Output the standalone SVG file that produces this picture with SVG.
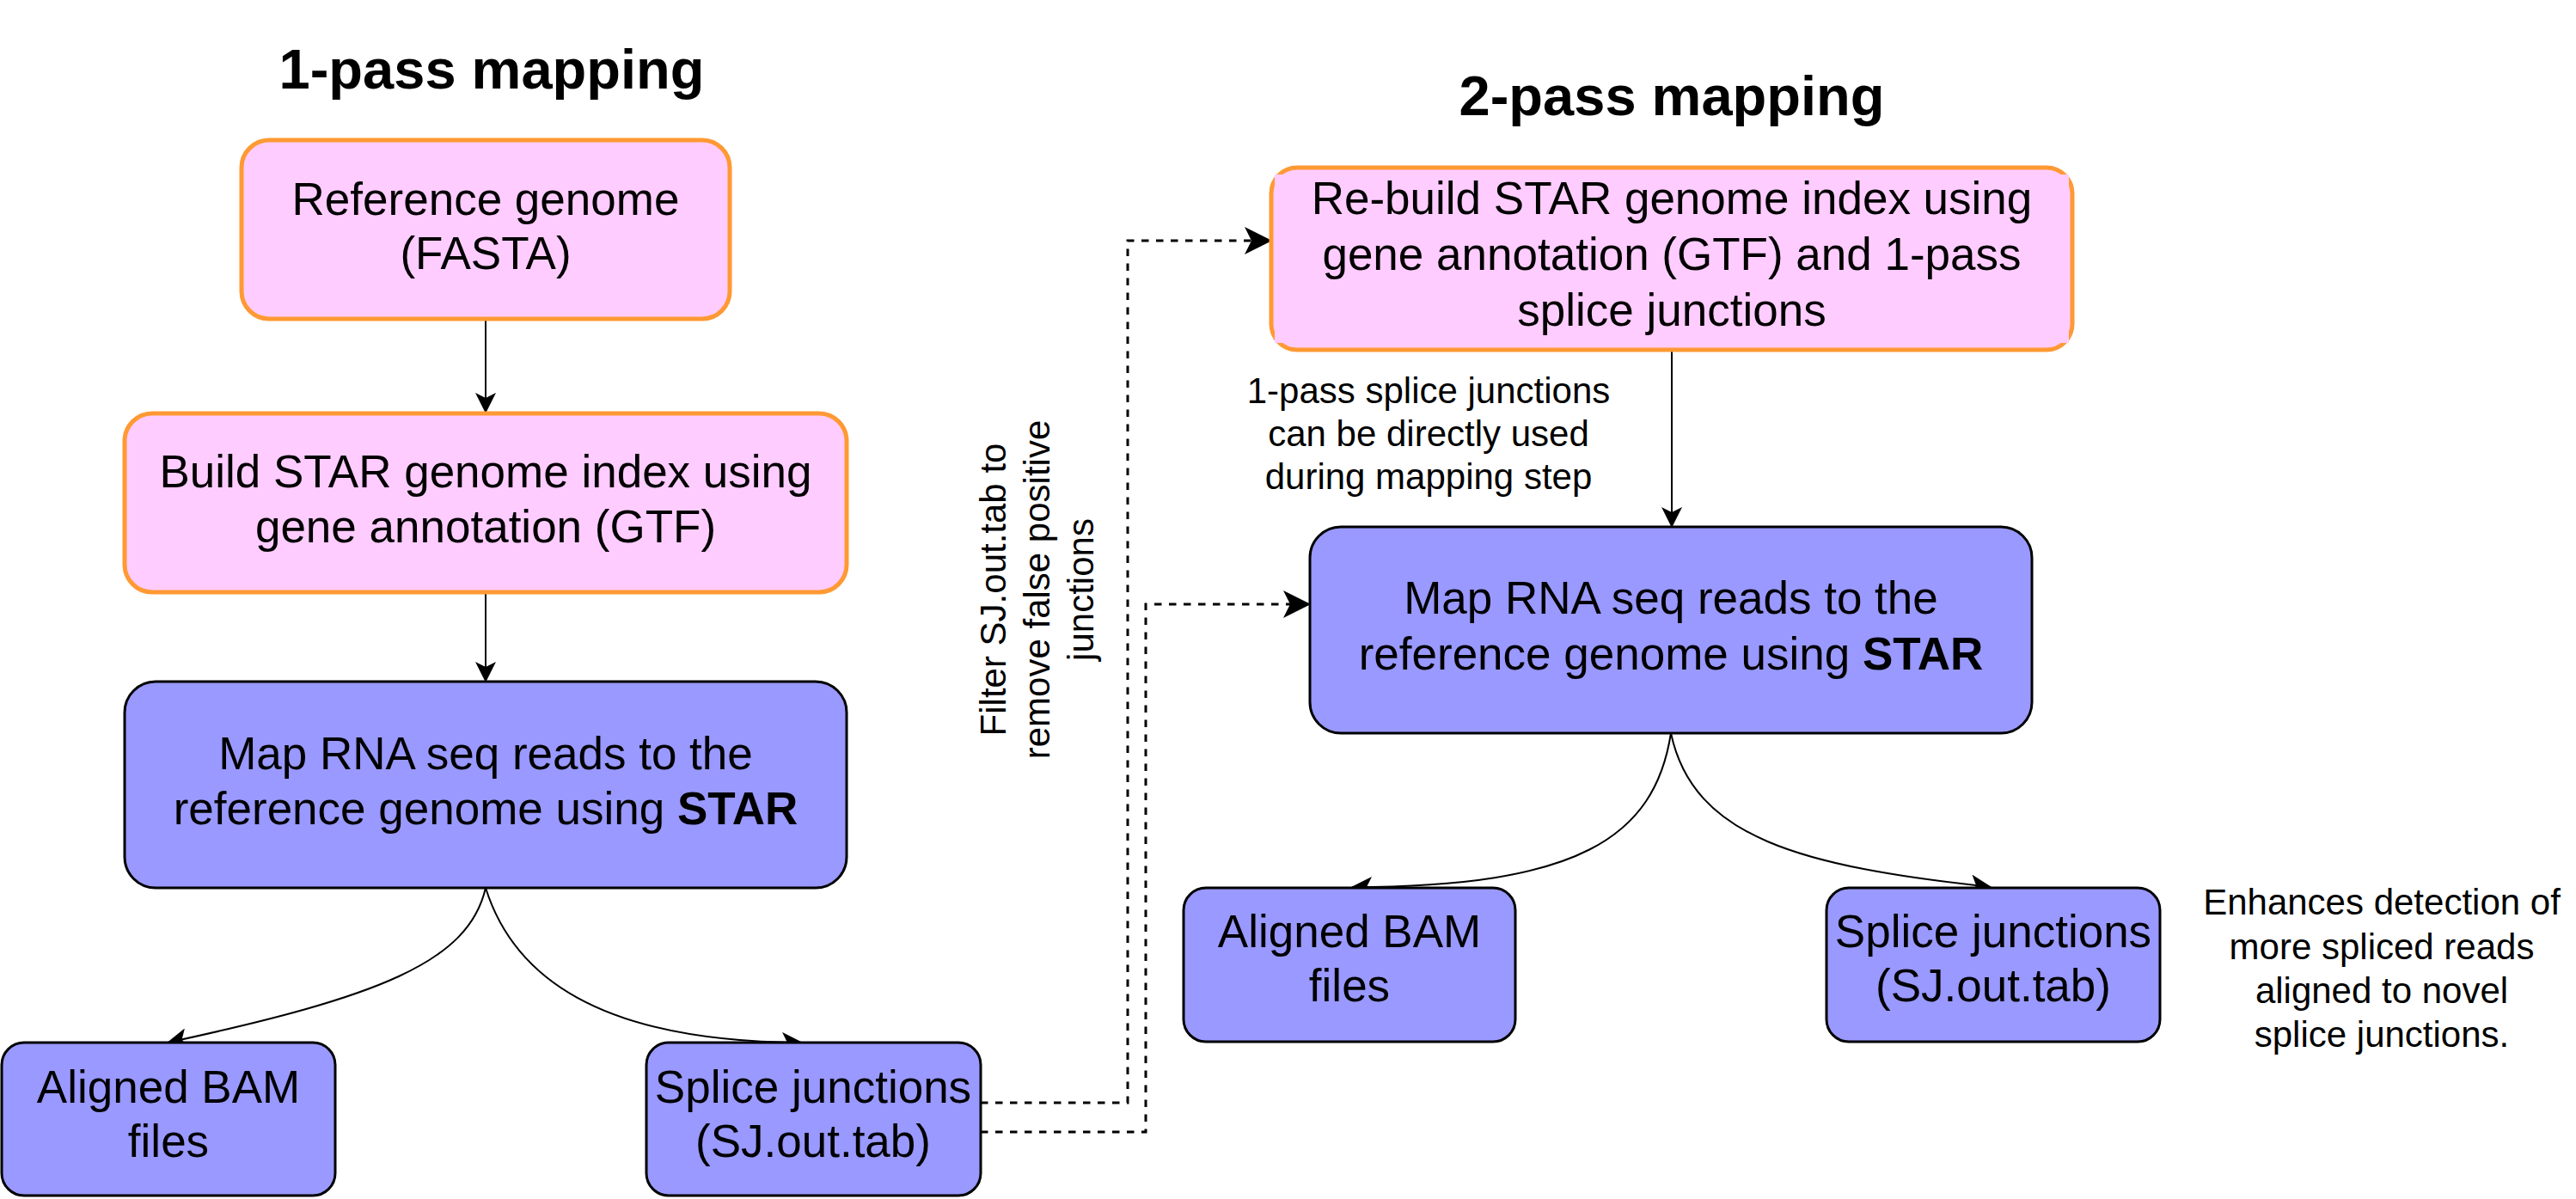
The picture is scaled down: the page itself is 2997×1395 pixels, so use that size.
<svg xmlns="http://www.w3.org/2000/svg" width="2997" height="1395" viewBox="0 0 2997 1395">
<defs>
<style>
text{font-family:"Liberation Sans",Arial,sans-serif;fill:#000;}
.t{font-size:53px;text-anchor:middle;}
.ttl{font-size:65px;font-weight:bold;text-anchor:middle;}
.note{font-size:42px;text-anchor:middle;}
.pink{fill:#FFCCFF;stroke:#FF9933;stroke-width:5;}
.blue{fill:#9999FF;stroke:#000;stroke-width:3;}
.edge{fill:none;stroke:#000;stroke-width:2;}
.dash{fill:none;stroke:#000;stroke-width:3;stroke-dasharray:8.5 8.5;}
</style>
<marker id="arr" viewBox="0 0 24 24" refX="23" refY="12" markerWidth="24" markerHeight="24" orient="auto" markerUnits="userSpaceOnUse">
<path d="M0,0 L24,12 L0,24 L6,12 z" fill="#000"/>
</marker>
<marker id="arrBig" viewBox="0 0 32 32" refX="31" refY="16" markerWidth="32" markerHeight="32" orient="auto" markerUnits="userSpaceOnUse">
<path d="M0,0 L32,16 L0,32 L8,16 z" fill="#000"/>
</marker>
</defs>
<rect width="2997" height="1395" fill="#fff"/>

<g id="titles">
<text class="ttl" x="572" y="103">1-pass mapping</text>
<text class="ttl" x="1945" y="134">2-pass mapping</text>
</g>

<g id="connectors">
<path class="edge" d="M565,371 L565,480" marker-end="url(#arr)"/>
<path class="edge" d="M565,689 L565,793" marker-end="url(#arr)"/>
<path class="edge" d="M565,1033 C545,1120 440,1160 195,1213" marker-end="url(#arr)"/>
<path class="edge" d="M565,1033 C597,1135 695,1212 933,1213" marker-end="url(#arr)"/>
<path class="dash" d="M1141,1283 L1312,1283 L1312,280 L1479,280" marker-end="url(#arrBig)"/>
<path class="dash" d="M1141,1317 L1333,1317 L1333,703 L1524,703" marker-end="url(#arrBig)"/>
<path class="edge" d="M1945,408 L1945,613" marker-end="url(#arr)"/>
<path class="edge" d="M1944,853 C1925,975 1835,1032 1573,1032" marker-end="url(#arr)"/>
<path class="edge" d="M1944,853 C1970,975 2095,1008 2316,1032" marker-end="url(#arr)"/>
</g>

<g id="n-ref">
<rect class="pink" x="281" y="163" width="568" height="208" rx="32"/>
<text class="t" x="565" y="250">Reference genome</text>
<text class="t" x="565" y="313">(FASTA)</text>
</g>

<g id="n-build">
<rect class="pink" x="145" y="481" width="840" height="208" rx="32"/>
<text class="t" x="565" y="567">Build STAR genome index using</text>
<text class="t" x="565" y="631">gene annotation (GTF)</text>
</g>

<g id="n-map1">
<rect class="blue" x="145" y="793" width="840" height="240" rx="36"/>
<text class="t" x="565" y="895">Map RNA seq reads to the</text>
<text class="t" x="565" y="959">reference genome using <tspan font-weight="bold">STAR</tspan></text>
</g>

<g id="n-bam1">
<rect class="blue" x="2" y="1213" width="388" height="178" rx="26"/>
<text class="t" x="196" y="1283">Aligned BAM</text>
<text class="t" x="196" y="1346">files</text>
</g>

<g id="n-sj1">
<rect class="blue" x="752" y="1213" width="389" height="178" rx="26"/>
<text class="t" x="946" y="1283">Splice junctions</text>
<text class="t" x="946" y="1346">(SJ.out.tab)</text>
</g>

<g id="l-filter">
<text class="note" transform="translate(1170,686) rotate(-90)"><tspan x="0" y="0">Filter SJ.out.tab to</tspan><tspan x="0" y="51">remove false positive</tspan><tspan x="0" y="102">junctions</tspan></text>
</g>

<g id="n-rebuild">
<rect class="pink" x="1479" y="195" width="932" height="212" rx="30"/>
<rect x="1483" y="203" width="924" height="196" fill="#FFCCFF"/>
<text class="t" x="1945" y="249">Re-build STAR genome index using</text>
<text class="t" x="1945" y="314">gene annotation (GTF) and 1-pass</text>
<text class="t" x="1945" y="379">splice junctions</text>
</g>

<g id="l-direct">
<text class="note" x="1662" y="469">1-pass splice junctions</text>
<text class="note" x="1662" y="519">can be directly used</text>
<text class="note" x="1662" y="569">during mapping step</text>
</g>

<g id="n-map2">
<rect class="blue" x="1524" y="613" width="840" height="240" rx="36"/>
<text class="t" x="1944" y="714">Map RNA seq reads to the</text>
<text class="t" x="1944" y="779">reference genome using <tspan font-weight="bold">STAR</tspan></text>
</g>

<g id="n-bam2">
<rect class="blue" x="1377" y="1033" width="386" height="179" rx="26"/>
<text class="t" x="1570" y="1102">Aligned BAM</text>
<text class="t" x="1570" y="1165">files</text>
</g>

<g id="n-sj2">
<rect class="blue" x="2125" y="1033" width="388" height="179" rx="26"/>
<text class="t" x="2319" y="1102">Splice junctions</text>
<text class="t" x="2319" y="1165">(SJ.out.tab)</text>
</g>

<g id="l-enh">
<text class="note" x="2771" y="1064">Enhances detection of</text>
<text class="note" x="2771" y="1116">more spliced reads</text>
<text class="note" x="2771" y="1167">aligned to novel</text>
<text class="note" x="2771" y="1218">splice junctions.</text>
</g>
</svg>
